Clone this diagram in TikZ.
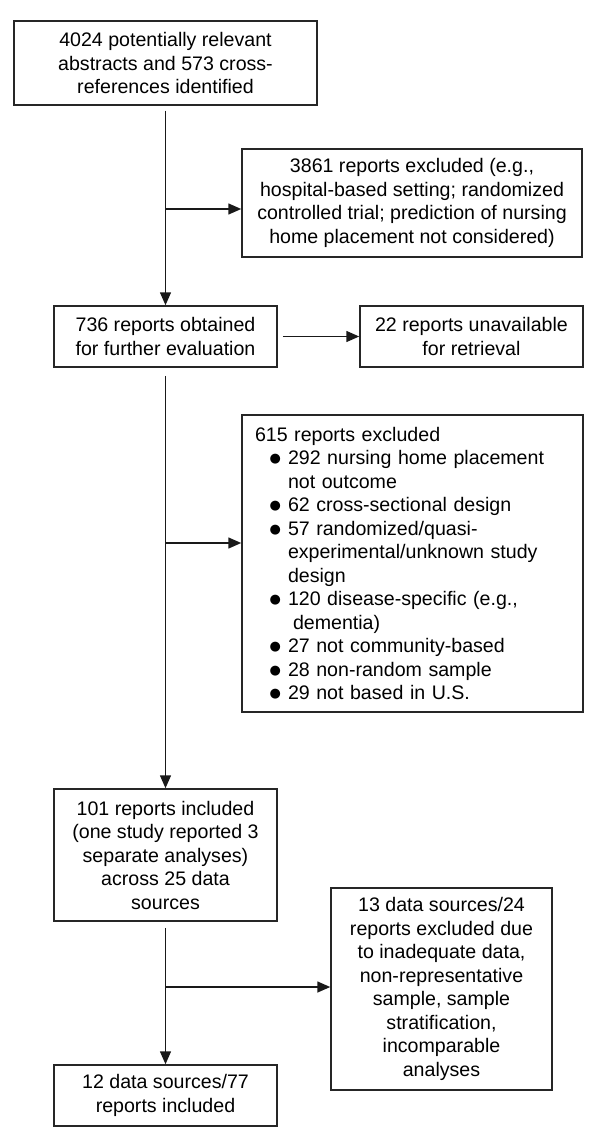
\documentclass[tikz,border=0pt]{standalone}
\usepackage{fontspec}
\setmainfont{Liberation Sans}
\newfontfamily\dejavu{DejaVu Sans}
\usetikzlibrary{arrows.meta}
\newcommand{\flowfont}{\fontsize{9.8pt}{11.75pt}\selectfont}
\newcommand{\bigdot}{\raisebox{1.1pt}{\dejavu\fontsize{6.5pt}{6.5pt}\selectfont ●}}
\newcommand{\bitem}{\hspace*{16.5pt}\llap{\bigdot\hspace{3.5pt}}}
\newcommand{\bcont}{\hspace*{16.5pt}}
\begin{document}
\begin{tikzpicture}[x=0.5pt,y=-0.5pt,
  box/.style={draw=black!85, line width=0.75pt, inner sep=0pt, align=center, font=\flowfont},
  arr/.style={-{Triangle[length=6.5pt,width=5.5pt]}, line width=0.75pt, draw=black!90}]
\useasboundingbox (0,0) rectangle (600,1139);
\node[box, minimum width=151.5pt, minimum height=42pt] (b1) at (165.5,63)
  {4024 potentially relevant\\abstracts and 573 cross-\\references identified};
\node[box, minimum width=170pt, minimum height=54pt] (b2) at (412,203)
  {3861 reports excluded (e.g.,\\hospital-based setting; randomized\\controlled trial; prediction of nursing\\home placement not considered)};
\node[box, minimum width=111.5pt, minimum height=30.5pt] (b3) at (165.5,336.5)
  {736 reports obtained\\for further evaluation};
\node[box, minimum width=111.5pt, minimum height=30.5pt] (b4) at (471.5,336.5)
  {22 reports unavailable\\for retrieval};
\node[box, minimum width=170.5pt, minimum height=148.5pt, text width=157.5pt, align=left, inner xsep=6.5pt] (b5) at (412.5,563.5)
  {615 reports excluded\\
   \bitem 292 nursing home placement\\
   \bcont not outcome\\
   \bitem 62 cross-sectional design\\
   \bitem 57 randomized/quasi-\\
   \bcont experimental/unknown study\\
   \bcont design\\
   \bitem 120 disease-specific (e.g.,\\
   \bcont\hspace{2.5pt}dementia)\\
   \bitem 27 not community-based\\
   \bitem 28 non-random sample\\
   \bitem 29 not based in U.S.};
\node[box, minimum width=111.5pt, minimum height=66pt] (b6) at (165.5,855)
  {101 reports included\\(one study reported 3\\separate analyses)\\across 25 data\\sources};
\node[box, minimum width=111.5pt, minimum height=30.5pt] (b7) at (165.5,1095.5)
  {12 data sources/77\\reports included};
\node[box, minimum width=110.5pt, minimum height=101pt] (b8) at (441.5,989)
  {13 data sources/24\\reports excluded due\\to inadequate data,\\non-representative\\sample, sample\\stratification,\\incomparable\\analyses};
\coordinate (j1) at (165.5,209);
\coordinate (j2) at (165.5,543);
\coordinate (j3) at (165.5,987);
\draw[arr] ([yshift=-2.5pt]b1.south) -- (b3.north);
\draw[arr] (j1) -- (j1 -| b2.west);
\draw[arr] ([xshift=2.5pt]b3.east) -- (b4.west);
\draw[arr] ([yshift=-4pt]b3.south) -- (b6.north);
\draw[arr] (j2) -- (j2 -| b5.west);
\draw[arr] ([yshift=-3pt]b6.south) -- (b7.north);
\draw[arr] (j3) -- (j3 -| b8.west);
\end{tikzpicture}
\end{document}
